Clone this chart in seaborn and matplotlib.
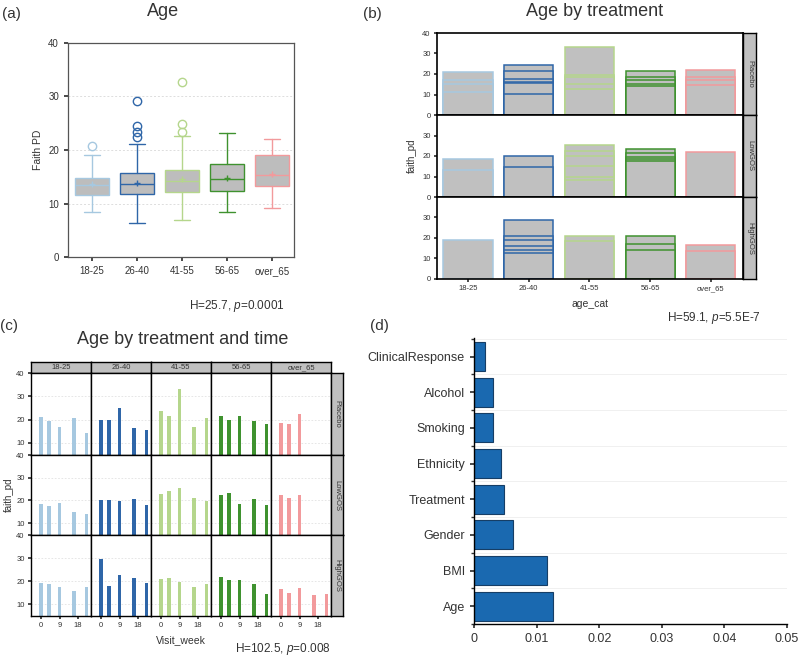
import matplotlib
matplotlib.use("Agg")
import matplotlib.pyplot as plt
import seaborn as sns
import pandas as pd

# %% data
age_cats = ["18-25", "26-40", "41-55", "56-65", "over_65"]
treatments = ["Placebo", "LowGOS", "HighGOS"]
age_colors = ["#a6c8e0", "#2f66a8", "#b5d68c", "#3f922f", "#f29a9c"]

# (a) Faith PD box summaries per age group
box_q1 = [11.6, 11.8, 12.1, 12.3, 13.2]
box_med = [13.5, 13.6, 14.2, 14.6, 15.3]
box_q3 = [14.7, 15.7, 16.3, 17.3, 19.1]
box_lo = [8.5, 6.3, 7.0, 8.5, 9.2]
box_hi = [19.0, 21.2, 22.6, 23.2, 22.0]
box_mean = [13.6, 13.9, 14.5, 14.8, 15.6]
box_fliers = [[20.7], [22.4, 23.4, 24.4, 29.2], [23.4, 24.9, 32.8], [], []]

# (b) overlapping individual values, per age group
placebo_vals = [[21.0, 17.0, 15.0, 11.0], [24.5, 21.3, 17.4, 16.1, 15.5, 10.3],
                [33.0, 19.7, 18.5, 15.3, 12.8], [21.3, 18.7, 17.2, 15.3, 14.0],
                [22.0, 18.5, 17.0, 14.6]]
lowgos_vals = [[18.7, 13.0], [20.2, 14.6], [25.2, 22.3, 19.8, 15.0, 10.0, 8.5],
               [23.4, 21.5, 19.5, 18.5, 17.4], [22.1]]
highgos_vals = [[18.9], [29.0, 20.8, 19.2, 15.9, 14.3, 12.7], [20.8, 18.4],
                [21.0, 17.1, 14.0], [16.7, 13.5]]

# (c) values by visit week
visit_weeks = [0, 4, 9, 16, 22]
placebo_week = [[21.0, 19.5, 17.0, 20.8, 14.3], [20.0, 20.0, 25.0, 16.5, 15.5],
                [23.5, 21.5, 33.0, 17.0, 20.5], [21.5, 20.0, 21.5, 19.3, 18.0],
                [18.7, 18.0, 22.3]]
lowgos_week = [[18.5, 17.5, 19.0, 15.0, 14.0], [20.0, 20.3, 19.7, 20.5, 18.0],
               [23.0, 24.0, 25.3, 21.3, 19.7], [22.3, 23.5, 18.3, 20.7, 17.8],
               [22.3, 21.3, 22.3]]
highgos_week = [[19.0, 18.7, 17.5, 15.8, 17.5], [29.5, 17.8, 22.5, 21.3, 19.0],
                [20.8, 21.2, 19.5, 17.5, 18.7], [21.7, 20.5, 20.5, 18.5, 14.3],
                [16.5, 14.8, 17.0, 14.0, 14.3]]

# (d) feature importance
features = ["ClinicalResponse", "Alcohol", "Smoking", "Ethnicity",
            "Treatment", "Gender", "BMI", "Age"]
importance = [0.00175, 0.0030, 0.0031, 0.0043, 0.0048, 0.0063, 0.0117, 0.01255]

# %% style
sns.set_theme(style="white")
plt.rcParams["font.family"] = ["Liberation Sans", "DejaVu Sans"]
plt.rcParams["mathtext.fontset"] = "custom"
plt.rcParams["mathtext.rm"] = "Liberation Sans"
plt.rcParams["mathtext.it"] = "Liberation Sans:italic"
TXT = "#333333"
GREY = "#c0c0c0"

W, H = 800, 657
fig = plt.figure(figsize=(W / 100, H / 100), dpi=100)


def px_axes(l, t, r, b):
    return fig.add_axes([l / W, 1 - b / H, (r - l) / W, (b - t) / H])


def fig_text(x, y, s, **kw):
    fig.text(x / W, 1 - y / H, s, **kw)


def strip(l, t, r, b, label, rot=0):
    s = px_axes(l, t, r, b)
    s.set_facecolor(GREY)
    s.set_xticks([])
    s.set_yticks([])
    for sp in s.spines.values():
        sp.set_color("black")
        sp.set_linewidth(1.0)
    s.text(0.5, 0.5, label, rotation=rot, ha="center", va="center",
           fontsize=5.5, color=TXT, transform=s.transAxes)


# %% (a) boxplot
ax = px_axes(68, 43, 294, 257)
stats = [dict(med=m, q1=a, q3=b, whislo=lo, whishi=hi, mean=mn, fliers=fl)
         for m, a, b, lo, hi, mn, fl in zip(box_med, box_q1, box_q3, box_lo,
                                            box_hi, box_mean, box_fliers)]
bp = ax.bxp(stats, positions=range(5), widths=0.75, capwidths=0.37,
            patch_artist=True, showmeans=True)
for i, c in enumerate(age_colors):
    bp["boxes"][i].set(facecolor="#bdbdbd", edgecolor=c, linewidth=1.0)
    bp["medians"][i].set(color=c, linewidth=1.0)
    bp["means"][i].set(marker="+", markeredgecolor=c, markersize=4)
    bp["fliers"][i].set(marker="o", markerfacecolor="none", markeredgecolor=c,
                        markersize=6, markeredgewidth=1.0)
    for k in (2 * i, 2 * i + 1):
        bp["whiskers"][k].set(color=c, linewidth=1.0)
        bp["caps"][k].set(color=c, linewidth=1.0)
ax.set_xlim(-0.53, 4.49)
ax.set_ylim(0, 40)
ax.set_xticks(range(5))
ax.set_xticklabels(age_cats)
ax.set_yticks([0, 10, 20, 30, 40])
for y in (10, 20, 30):
    ax.axhline(y, color="#dddddd", linestyle=(0, (2, 2)), linewidth=0.7, zorder=0)
ax.tick_params(axis="both", labelsize=7, colors=TXT, length=3, direction="out",
               left=True, bottom=True)
for sp in ax.spines.values():
    sp.set_color("#555555")
    sp.set_linewidth(0.9)
ax.set_ylabel("Faith PD", fontsize=7.5, color=TXT, labelpad=4)
fig_text(163, 12, "Age", fontsize=13, color=TXT, ha="center", va="center")
fig_text(237, 306, r"H=25.7, $\it{p}$=0.0001", fontsize=8.5, color=TXT,
         ha="center", va="center")

# %% (b) overlapping bars by treatment
row_b = [33, 115, 197, 279]
for i, (tr, vals) in enumerate(zip(treatments, [placebo_vals, lowgos_vals, highgos_vals])):
    ax = px_axes(437, row_b[i], 743, row_b[i + 1])
    for j, v in enumerate(vals):
        for h in sorted(v, reverse=True):
            ax.bar(j, h, width=0.81, color=GREY, edgecolor=age_colors[j],
                   linewidth=1.1)
    ax.set_xlim(-0.51, 4.53)
    ax.set_ylim(0, 40)
    ax.set_yticks([0, 10, 20, 30, 40] if i == 0 else [0, 10, 20, 30])
    ax.set_xticks(range(5))
    ax.set_xticklabels(age_cats if i == 2 else [])
    ax.tick_params(axis="both", labelsize=5.5, colors=TXT, length=2.5,
                   direction="out", left=True, bottom=(i == 2), pad=2)
    for sp in ax.spines.values():
        sp.set_color("black")
        sp.set_linewidth(1.2)
    strip(743, row_b[i], 756, row_b[i + 1], tr, rot=-90)
    if i == 1:
        ax.set_ylabel("faith_pd", fontsize=7, color=TXT, labelpad=4)
    if i == 2:
        ax.set_xlabel("age_cat", fontsize=7.5, color=TXT, labelpad=5)
fig_text(595, 12, "Age by treatment", fontsize=13, color=TXT, ha="center", va="center")
fig_text(714, 318, r"H=59.1, $\it{p}$=5.5E-7", fontsize=8.5, color=TXT,
         ha="center", va="center")

# %% (c) grid of bars by visit week
row_c = [373, 455, 535, 616]
col_c = [31, 91, 151, 211, 271, 331]
for j, cat in enumerate(age_cats):
    strip(col_c[j], 362, col_c[j + 1], 373, cat)
for i, (tr, rows) in enumerate(zip(treatments, [placebo_week, lowgos_week, highgos_week])):
    for j in range(5):
        ax = px_axes(col_c[j], row_c[i], col_c[j + 1], row_c[i + 1])
        v = rows[j]
        ax.bar(visit_weeks[:len(v)], v, width=1.8, color=age_colors[j],
               linewidth=0)
        ax.set_xlim(-4.8, 24.2)
        ax.set_ylim(4.8, 40)
        for y in (10, 20, 30):
            ax.axhline(y, color="#e2e2e2", linestyle=(0, (2, 2)), linewidth=0.6,
                       zorder=0)
        ax.set_xticks([0, 9, 18])
        ax.set_yticks([10, 20, 30, 40])
        ax.tick_params(axis="both", labelsize=5.5, colors=TXT, length=2.5,
                       direction="out", pad=2, left=(j == 0), bottom=(i == 2),
                       labelleft=(j == 0), labelbottom=(i == 2))
        for sp in ax.spines.values():
            sp.set_color("black")
            sp.set_linewidth(1.0)
        if i == 1 and j == 0:
            ax.set_ylabel("faith_pd", fontsize=7, color=TXT, labelpad=2)
        if i == 2 and j == 2:
            ax.set_xlabel("Visit_week", fontsize=7.5, color=TXT, labelpad=4)
    strip(331, row_c[i], 343, row_c[i + 1], tr, rot=-90)
fig_text(183, 339, "Age by treatment and time", fontsize=13, color=TXT,
         ha="center", va="center")
fig_text(283, 649, r"H=102.5, $\it{p}$=0.008", fontsize=8.5, color=TXT,
         ha="center", va="center")

# %% (d) feature importance
ax = px_axes(474, 338, 787, 624)
df = pd.DataFrame({"feature": features, "importance": importance})
sns.barplot(data=df, x="importance", y="feature", orient="h", color="#1a69b0",
            saturation=1, edgecolor="#163e66", linewidth=0.8, width=0.82, ax=ax)
ax.set_xlim(0, 0.05)
ax.set_ylim(7.48, -0.52)
ax.set_xticks([0, 0.01, 0.02, 0.03, 0.04, 0.05])
ax.set_xticklabels(["0", "0.01", "0.02", "0.03", "0.04", "0.05"])
ax.set_yticks([k + 0.5 for k in range(-1, 8)], minor=True)
ax.grid(which="minor", axis="y", color="#eeeeee", linewidth=0.6)
ax.set_xlabel("")
ax.set_ylabel("")
ax.tick_params(axis="both", which="major", labelsize=9, colors=TXT, length=3,
               direction="out", left=True, bottom=True)
ax.tick_params(axis="y", which="minor", length=2, left=True, color=TXT)
for side in ("top", "right"):
    ax.spines[side].set_visible(False)
for side in ("left", "bottom"):
    ax.spines[side].set_color("black")
    ax.spines[side].set_linewidth(1.0)

# %% panel letters
for x, y, s in [(2, 14, "(a)"), (363, 14, "(b)"), (0, 326, "(c)"), (370, 326, "(d)")]:
    fig_text(x, y, s, fontsize=11, color=TXT, ha="left", va="center")

fig.savefig("out.png", dpi=100)
